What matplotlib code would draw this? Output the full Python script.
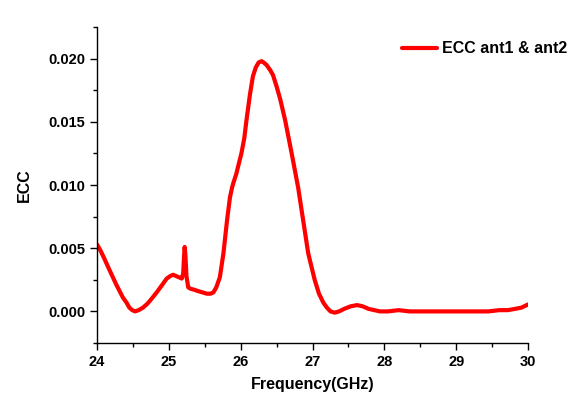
import matplotlib
matplotlib.use("Agg")
import matplotlib.pyplot as plt
from matplotlib.ticker import MultipleLocator

plt.rcParams['font.family'] = ['Liberation Sans', 'DejaVu Sans']
plt.rcParams['font.weight'] = 'bold'

freq = [24.00, 24.05, 24.10, 24.18, 24.27, 24.36, 24.41, 24.45, 24.49, 24.53, 24.58, 24.64,
        24.70, 24.76, 24.83, 24.92, 24.97, 25.02, 25.06, 25.10, 25.14, 25.18, 25.20, 25.21,
        25.22, 25.23, 25.245, 25.27, 25.30, 25.36, 25.41, 25.47, 25.53, 25.58, 25.62, 25.66,
        25.71, 25.76, 25.81, 25.85, 25.88, 25.90, 25.94, 25.97, 26.01, 26.05, 26.08, 26.13,
        26.17, 26.21, 26.25, 26.29, 26.32, 26.36, 26.41, 26.45, 26.50, 26.55, 26.62, 26.71,
        26.80, 26.87, 26.94, 27.03, 27.09, 27.15, 27.20, 27.25, 27.31, 27.37, 27.44, 27.53,
        27.62, 27.70, 27.78, 27.86, 27.94, 28.05, 28.20, 28.35, 28.60, 28.90, 29.20, 29.45,
        29.60, 29.72, 29.82, 29.91, 30.00]
ecc = [0.0053, 0.0048, 0.0042, 0.0032, 0.0021, 0.0011, 0.0007, 0.0003, 0.0001, 0.0000, 0.0001, 0.0003,
       0.0006, 0.0010, 0.0015, 0.0022, 0.0026, 0.0028, 0.0029, 0.0028, 0.0027, 0.0026, 0.0030, 0.0042,
       0.0051, 0.0045, 0.0028, 0.0019, 0.0018, 0.0017, 0.0016, 0.0015, 0.0014, 0.0014, 0.0015, 0.0019,
       0.0027, 0.0046, 0.0072, 0.0090, 0.0098, 0.0102, 0.0109, 0.0116, 0.0125, 0.0137, 0.0151, 0.0172,
       0.0186, 0.0193, 0.0197, 0.0198, 0.0197, 0.0195, 0.0191, 0.0187, 0.0178, 0.0168, 0.0151, 0.0125,
       0.0098, 0.0072, 0.0046, 0.0025, 0.0014, 0.0007, 0.0003, 0.0000, -0.0001, 0.0000, 0.0002, 0.0004,
       0.0005, 0.0004, 0.0002, 0.0001, 0.0000, 0.0000, 0.0001, 0.0000, 0.0000, 0.0000, 0.0000, 0.0000,
       0.0001, 0.0001, 0.0002, 0.0003, 0.00055]

xticks = [24, 25, 26, 27, 28, 29, 30]
yticks = [0.000, 0.005, 0.010, 0.015, 0.020]
series_label = "ECC ant1 & ant2"

fig = plt.figure(figsize=(5.68, 3.98), dpi=100)
ax = fig.add_axes([0.1708, 0.1382, 0.7588, 0.7938])
ax.plot(freq, ecc, color='#ff0000', lw=3.0, label=series_label,
        solid_capstyle='round', solid_joinstyle='round')

ax.set_xlim(24, 30)
ax.set_ylim(-0.0025, 0.0225)
ax.set_xticks(xticks)
ax.set_yticks(yticks)
ax.set_yticklabels([f"{v:.3f}" for v in yticks])
ax.xaxis.set_minor_locator(MultipleLocator(0.5))
ax.yaxis.set_minor_locator(MultipleLocator(0.0025))
ax.tick_params(which='major', direction='out', length=5, width=1, labelsize=10.5)
ax.tick_params(which='minor', direction='out', length=3, width=1)
for lab in ax.get_xticklabels() + ax.get_yticklabels():
    lab.set_fontweight('bold')
ax.spines['top'].set_visible(False)
ax.spines['right'].set_visible(False)
ax.spines['left'].set_linewidth(1)
ax.spines['bottom'].set_linewidth(1)

ax.set_xlabel("Frequency(GHz)", fontsize=11.5, fontweight='bold', labelpad=6)
ax.set_ylabel("ECC", fontsize=11.5, fontweight='bold', labelpad=12)

leg = ax.legend(loc='upper right', bbox_to_anchor=(1.125, 1.0), frameon=False,
                handlelength=2.2, handletextpad=0.35, prop={'weight': 'bold', 'size': 11.5})

fig.savefig("out.png", dpi=100, facecolor='white')
